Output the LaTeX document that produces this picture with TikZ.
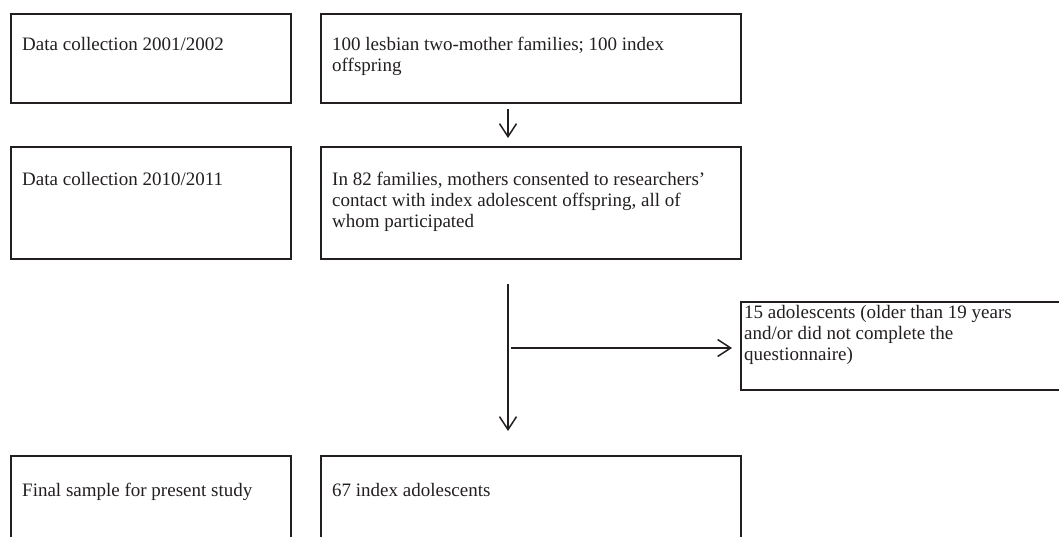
\documentclass[tikz,border=0pt]{standalone}
\usepackage{fontspec}
\setmainfont{Liberation Serif}
\usetikzlibrary{arrows.meta,calc}
\definecolor{ink}{HTML}{231F20}
\begin{document}
\begin{tikzpicture}[x=1pt,y=-1pt,
  boxnode/.style={draw=ink, line width=2pt, rectangle, inner sep=0pt, anchor=north west},
  txt/.style={anchor=north west, inner sep=0pt, align=left, text=ink,
    font=\fontsize{19}{21}\selectfont},
  conn/.style={draw=ink, line width=1.5pt,
    -{Straight Barb[length=13pt,width=17pt,line width=1.5pt]}},
]
\useasboundingbox (0,0) rectangle (1059,536);
\clip (0,0) rectangle (1059,536);
% boxes
\node[boxnode, minimum width=280pt, minimum height=89pt] (A) at (10,13) {};
\node[boxnode, minimum width=420pt, minimum height=89pt] (B) at (320,13) {};
\node[boxnode, minimum width=280pt, minimum height=112pt] (C) at (10,146) {};
\node[boxnode, minimum width=420pt, minimum height=112pt] (D) at (320,146) {};
\node[boxnode, minimum width=340pt, minimum height=88pt] (E) at (740,301) {};
\node[boxnode, minimum width=280pt, minimum height=100pt] (F) at (10,455) {};
\node[boxnode, minimum width=420pt, minimum height=100pt] (G) at (320,455) {};
% texts
\node[txt] (tA) at (22,36) {\rule{0pt}{14pt}Data collection 2001/2002};
\node[txt] (tB) at (332,36) {\rule{0pt}{14pt}100 lesbian two-mother families; 100 index\\offspring};
\node[txt] (tC) at (22,171) {\rule{0pt}{14pt}Data collection 2010/2011};
\node[txt] (tD) at (332,171) {\rule{0pt}{14pt}In 82 families, mothers consented to researchers’\\contact with index adolescent offspring, all of\\whom participated};
\node[txt] (tE) at (744,304) {\rule{0pt}{14pt}15 adolescents (older than 19 years\\and/or did not complete the\\questionnaire)};
\node[txt] (tF) at (22,482) {\rule{0pt}{14pt}Final sample for present study};
\node[txt] (tG) at (332,482) {\rule{0pt}{14pt}67 index adolescents};
% connectors
\draw[conn, shorten <=5pt, shorten >=8pt] ([xshift=188pt]B.south west) -- ([xshift=188pt]D.north west);
\draw[conn, shorten <=24pt, shorten >=24pt] ([xshift=188pt]D.south west) -- ([xshift=188pt]G.north west);
\coordinate (split) at (508,348);
\draw[conn, shorten <=3pt, shorten >=8pt] (split) -- (split -| E.west);
\end{tikzpicture}
\end{document}
